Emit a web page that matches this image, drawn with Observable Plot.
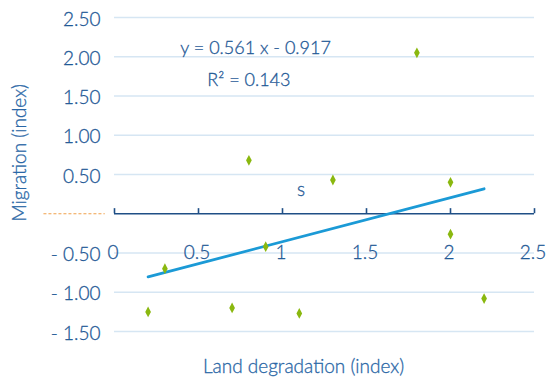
<!DOCTYPE html>
<html>
<head>
<meta charset="utf-8">
<script src="https://cdn.jsdelivr.net/npm/d3@7"></script>
<script src="https://cdn.jsdelivr.net/npm/@observablehq/plot@0.6"></script>
<style>
  html, body { margin: 0; padding: 0; background: #fff; }
  svg { font-family: Lato, "Open Sans", sans-serif; }
</style>
</head>
<body>
<div id="chart"></div>
<script>
// Land degradation (index) vs Migration (index)
const landDegradation = [0.2, 0.3, 0.7, 0.8, 0.9, 1.1, 1.3, 1.8, 2.0, 2.0, 2.2];
const migration       = [-1.25, -0.70, -1.20, 0.68, -0.42, -1.27, 0.43, 2.05, 0.40, -0.26, -1.08];
const yTicks = [-1.5, -1.0, -0.5, 0.5, 1.0, 1.5, 2.0, 2.5];
const yTickLabels = ["- 1.50", "- 1.00", "- 0.50", "0.50", "1.00", "1.50", "2.00", "2.50"];
const xTicks = [0, 0.5, 1, 1.5, 2, 2.5];
const xTickLabels = ["0", "0.5", "1", "1.5", "2", "2.5"];
const equationText = "y = 0.561 x - 0.917";
const r2Text = "R\u00B2 = 0.143";

const data = landDegradation.map((x, i) => ({x, y: migration[i]}));
const yTickData = yTicks.map((v, i) => ({v, label: yTickLabels[i]}));
const xTickData = xTicks.map((v, i) => ({v, label: xTickLabels[i]}));

const textColor = "#1f5996";
const labelColor = "#2a67a6";
const gridColor = "#d6e6f3";
const axisColor = "#1f4f86";
const lineColor = "#1b9ad6";
const dotColor = "#8ab80f";
const fw = 300;

const tallDiamond = {
  draw(context, size) {
    const s = Math.sqrt(size / Math.PI);
    context.moveTo(0, -s * 1.8);
    context.lineTo(s * 0.95, 0);
    context.lineTo(0, s * 1.8);
    context.lineTo(-s * 0.95, 0);
    context.closePath();
  }
};

const chart = Plot.plot({
  width: 546,
  height: 386,
  marginLeft: 114,
  marginRight: 12,
  marginTop: 17,
  marginBottom: 55,
  x: {domain: [0, 2.5], axis: null},
  y: {domain: [-1.5, 2.5], axis: null},
  style: {fontFamily: "Lato, 'Open Sans', sans-serif", background: "#fff"},
  marks: [
    Plot.ruleY(yTicks, {stroke: gridColor, strokeWidth: 1.5}),
    Plot.text(yTickData, {x: 0, y: "v", text: "label", textAnchor: "end", dx: -14, dy: 2, fontSize: 19, fontWeight: fw, fill: textColor, stroke: textColor, strokeWidth: 0.3}),
    // orange dashed marker at the zero level, in the left margin
    Plot.ruleY([0], {x1: -0.42, x2: -0.055, stroke: "#f0a04b", strokeWidth: 1, strokeDasharray: "3,2", clip: false}),
    // x axis line at y = 0 with upward ticks
    Plot.ruleY([0], {stroke: axisColor, strokeWidth: 1.6}),
    Plot.ruleX(xTicks, {y1: 0, y2: 0.065, stroke: axisColor, strokeWidth: 1.6}),
    Plot.text(xTickData, {x: "v", y: 0, text: "label", dy: 39, dx: -1.5, fontSize: 19, fontWeight: fw, fill: textColor, stroke: textColor, strokeWidth: 0.3}),
    Plot.linearRegressionY(data, {x: "x", y: "y", ci: 0, stroke: lineColor, strokeWidth: 2.8}),
    Plot.dot(data, {x: "x", y: "y", r: 3, symbol: tallDiamond, fill: dotColor, stroke: "none"}),
    Plot.text([equationText], {x: 0.84, y: 2.11, text: d => d, fontSize: 18, fontWeight: fw, fill: textColor, stroke: textColor, strokeWidth: 0.3}),
    Plot.text([r2Text], {x: 0.80, y: 1.70, text: d => d, fontSize: 18, fontWeight: fw, fill: textColor, stroke: textColor, strokeWidth: 0.3}),
    Plot.text(["s"], {x: 1.11, y: 0.30, text: d => d, fontSize: 19, fontWeight: fw, fill: textColor, stroke: textColor, strokeWidth: 0.3}),
    Plot.text(["Migration (index)"], {frameAnchor: "left", y: -0.1, dx: -95, rotate: -90, text: d => d, fontSize: 19, fontWeight: fw, fill: labelColor, stroke: labelColor, strokeWidth: 0.3}),
    Plot.text(["Land degradation (index)"], {frameAnchor: "bottom", x: 1.125, dy: 41, text: d => d, fontSize: 19, fontWeight: fw, fill: labelColor, stroke: labelColor, strokeWidth: 0.3})
  ]
});
document.getElementById("chart").appendChild(chart);
</script>
</body>
</html>
